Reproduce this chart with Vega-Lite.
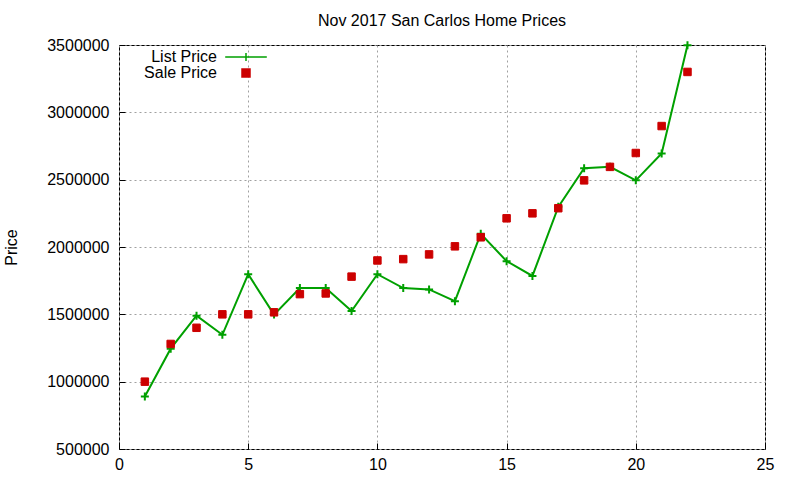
{
  "$schema": "https://vega.github.io/schema/vega-lite/v6.json",
  "autosize": "none",
  "padding": {"left": 119, "top": 45, "right": 35, "bottom": 31},
  "width": 646,
  "height": 404,
  "background": "white",
  "title": {
    "text": "Nov 2017 San Carlos Home Prices",
    "font": "Liberation Sans",
    "fontSize": 16,
    "fontWeight": "normal",
    "color": "black",
    "offset": 8
  },
  "config": {
    "font": "Liberation Sans",
    "view": {"stroke": "black", "strokeWidth": 1},
    "axis": {
      "labelFont": "Liberation Sans",
      "labelFontSize": 16,
      "labelColor": "black",
      "labelFlush": false,
      "titleFont": "Liberation Sans",
      "titleFontSize": 16,
      "titleFontWeight": "normal",
      "titleColor": "black",
      "domain": false,
      "grid": true,
      "gridColor": "#a0a0a0",
      "gridDash": [2, 3],
      "gridWidth": 1,
      "tickColor": "black",
      "tickSize": -6,
      "tickWidth": 1
    }
  },
  "data": {
    "values": [
      {"n": 1, "series": "List Price", "price": 890000},
      {"n": 2, "series": "List Price", "price": 1245000},
      {"n": 3, "series": "List Price", "price": 1490000},
      {"n": 4, "series": "List Price", "price": 1348000},
      {"n": 5, "series": "List Price", "price": 1798000},
      {"n": 6, "series": "List Price", "price": 1498000},
      {"n": 7, "series": "List Price", "price": 1695000},
      {"n": 8, "series": "List Price", "price": 1695000},
      {"n": 9, "series": "List Price", "price": 1525000},
      {"n": 10, "series": "List Price", "price": 1798000},
      {"n": 11, "series": "List Price", "price": 1695000},
      {"n": 12, "series": "List Price", "price": 1685000},
      {"n": 13, "series": "List Price", "price": 1598000},
      {"n": 14, "series": "List Price", "price": 2098000},
      {"n": 15, "series": "List Price", "price": 1895000},
      {"n": 16, "series": "List Price", "price": 1785000},
      {"n": 17, "series": "List Price", "price": 2298000},
      {"n": 18, "series": "List Price", "price": 2585000},
      {"n": 19, "series": "List Price", "price": 2595000},
      {"n": 20, "series": "List Price", "price": 2495000},
      {"n": 21, "series": "List Price", "price": 2695000},
      {"n": 22, "series": "List Price", "price": 3498000},
      {"n": 1, "series": "Sale Price", "price": 1000000},
      {"n": 2, "series": "Sale Price", "price": 1280000},
      {"n": 3, "series": "Sale Price", "price": 1400000},
      {"n": 4, "series": "Sale Price", "price": 1500000},
      {"n": 5, "series": "Sale Price", "price": 1500000},
      {"n": 6, "series": "Sale Price", "price": 1515000},
      {"n": 7, "series": "Sale Price", "price": 1650000},
      {"n": 8, "series": "Sale Price", "price": 1655000},
      {"n": 9, "series": "Sale Price", "price": 1780000},
      {"n": 10, "series": "Sale Price", "price": 1900000},
      {"n": 11, "series": "Sale Price", "price": 1910000},
      {"n": 12, "series": "Sale Price", "price": 1945000},
      {"n": 13, "series": "Sale Price", "price": 2005000},
      {"n": 14, "series": "Sale Price", "price": 2072000},
      {"n": 15, "series": "Sale Price", "price": 2213000},
      {"n": 16, "series": "Sale Price", "price": 2250000},
      {"n": 17, "series": "Sale Price", "price": 2288000},
      {"n": 18, "series": "Sale Price", "price": 2495000},
      {"n": 19, "series": "Sale Price", "price": 2595000},
      {"n": 20, "series": "Sale Price", "price": 2698000},
      {"n": 21, "series": "Sale Price", "price": 2898000},
      {"n": 22, "series": "Sale Price", "price": 3300000}
    ]
  },
  "encoding": {
    "x": {
      "field": "n",
      "type": "quantitative",
      "title": null,
      "scale": {"domain": [0, 25], "nice": false},
      "axis": {"values": [0, 5, 10, 15, 20, 25], "labelPadding": 13}
    },
    "y": {
      "field": "price",
      "type": "quantitative",
      "title": "Price",
      "scale": {"domain": [500000, 3500000], "nice": false, "zero": false},
      "axis": {
        "values": [500000, 1000000, 1500000, 2000000, 2500000, 3000000, 3500000],
        "format": "d",
        "labelPadding": 16,
        "titlePadding": 27
      }
    }
  },
  "layer": [
    {
      "transform": [{"filter": "datum.series === 'List Price'"}],
      "mark": {"type": "line", "color": "#00a000", "strokeWidth": 2},
      "encoding": {}
    },
    {
      "transform": [{"filter": "datum.series === 'List Price'"}],
      "mark": {"type": "point", "shape": "M-1,0H1M0,-1V1", "filled": false, "color": "#00a000", "strokeWidth": 2, "size": 64, "opacity": 1},
      "encoding": {}
    },
    {
      "transform": [{"filter": "datum.series === 'Sale Price'"}],
      "mark": {"type": "point", "filled": false, "strokeWidth": 1, "size": 56, "opacity": 1},
      "encoding": {
        "shape": {
          "field": "series",
          "type": "nominal",
          "scale": {"domain": ["List Price", "Sale Price"], "range": ["M-5.2,0H5.2M0,-1V1", "square"]},
          "legend": {
            "title": null,
            "orient": "none",
            "legendX": 119,
            "legendY": 4,
            "labelFont": "Liberation Sans",
            "labelFontSize": 16,
            "labelColor": "black",
            "labelAlign": "right",
            "labelOffset": -37,
            "symbolSize": 64,
            "symbolStrokeWidth": 1.5,
            "symbolOpacity": 1,
            "rowPadding": -1
          }
        },
        "fill": {
          "field": "series",
          "type": "nominal",
          "scale": {"domain": ["List Price", "Sale Price"], "range": ["transparent", "#cc0000"]}
        },
        "stroke": {
          "field": "series",
          "type": "nominal",
          "scale": {"domain": ["List Price", "Sale Price"], "range": ["#00a000", "#cc0000"]}
        }
      }
    }
  ]
}
